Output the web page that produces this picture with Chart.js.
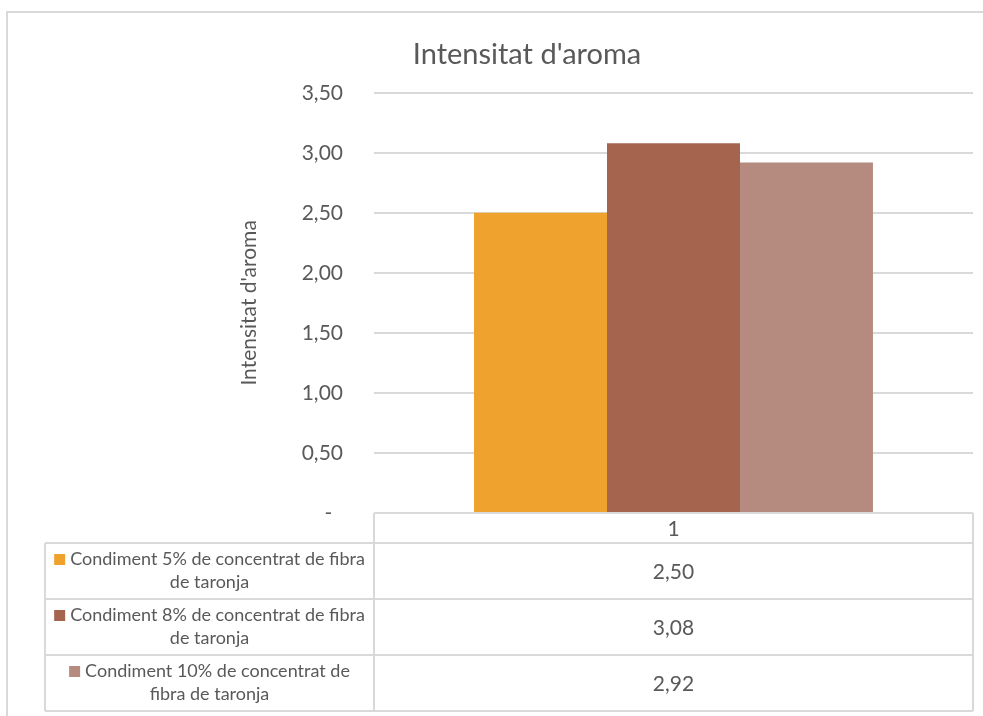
<!DOCTYPE html>
<html>
<head>
<meta charset="utf-8">
<title>Intensitat d'aroma</title>
<script src="https://cdn.jsdelivr.net/npm/chart.js@4/dist/chart.umd.min.js"></script>
<style>
  html, body { margin: 0; padding: 0; background: #ffffff; }
  #wrap { width: 983px; height: 716px; position: relative; }
</style>
</head>
<body>
<div id="wrap"><canvas id="chart" width="983" height="716"></canvas></div>
<script>
// Categories along the x axis (one group)
const categories = ['1'];

// Series names, split into the lines shown in the data table
const seriesNames = [
  ['Condiment 5% de concentrat de fibra', 'de taronja'],
  ['Condiment 8% de concentrat de fibra', 'de taronja'],
  ['Condiment 10% de concentrat de', 'fibra de taronja']
];

// Values per series (one per category)
const seriesValues = [
  [2.50],
  [3.08],
  [2.92]
];

const seriesColors = ['#F0A22E', '#A5644E', '#B58B80'];

// Y axis range and step
const yMin = 0;
const yMax = 3.5;
const yStep = 0.5;

const chartTitle = "Intensitat d'aroma";
const yAxisTitle = "Intensitat d'aroma";

const FONT = 'Lato, "Open Sans", sans-serif';
const TEXT_COLOR = '#595959';
const LINE_COLOR = '#D9D9D9';

function fmt(v) {
  if (Math.abs(v) < 1e-9) return '-  ';
  return v.toFixed(2).replace('.', ',');
}

// Outer frame and white background
const framePlugin = {
  id: 'frame',
  beforeDraw(chart) {
    const ctx = chart.ctx;
    ctx.save();
    ctx.fillStyle = '#ffffff';
    ctx.fillRect(0, 0, chart.width, chart.height);
    ctx.strokeStyle = LINE_COLOR;
    ctx.lineWidth = 2;
    ctx.beginPath();
    ctx.moveTo(7, chart.height + 5);
    ctx.lineTo(7, 12);
    ctx.lineTo(chart.width + 5, 12);
    ctx.stroke();
    ctx.restore();
  }
};

// Data table under the plot: header with categories, one row per series
const dataTablePlugin = {
  id: 'dataTable',
  afterDraw(chart) {
    const ctx = chart.ctx;
    const area = chart.chartArea;
    const xs = chart.scales.x;
    const headerH = 30;
    const rowH = 56;
    const legendLeft = 45;
    const top = area.bottom;
    const nRows = chart.data.datasets.length;
    const bottom = top + headerH + rowH * nRows;
    const colW = (area.right - area.left) / categories.length;

    ctx.save();
    ctx.strokeStyle = LINE_COLOR;
    ctx.lineWidth = 2;

    // horizontal lines
    ctx.beginPath();
    ctx.moveTo(area.left, top);
    ctx.lineTo(area.right, top);
    for (let r = 0; r <= nRows; r++) {
      const y = top + headerH + r * rowH;
      ctx.moveTo(legendLeft, y);
      ctx.lineTo(area.right, y);
    }
    // vertical lines
    ctx.moveTo(legendLeft, top + headerH);
    ctx.lineTo(legendLeft, bottom);
    for (let c = 0; c <= categories.length; c++) {
      const x = area.left + c * colW;
      ctx.moveTo(x, top);
      ctx.lineTo(x, bottom);
    }
    ctx.stroke();

    ctx.fillStyle = TEXT_COLOR;
    ctx.textBaseline = 'middle';
    ctx.textAlign = 'center';
    ctx.font = '21px ' + FONT;

    // header: category labels
    categories.forEach((cat, i) => {
      const cx = xs.getPixelForValue(i);
      ctx.fillText(cat, cx, top + headerH / 2 + 1);
    });

    // rows
    chart.data.datasets.forEach((ds, r) => {
      const rowTop = top + headerH + r * rowH;
      const cy = rowTop + rowH / 2;
      ctx.font = '21px ' + FONT;
      ds.data.forEach((v, i) => {
        const cx = xs.getPixelForValue(i);
        ctx.fillStyle = TEXT_COLOR;
        ctx.textAlign = 'center';
        ctx.fillText(fmt(v), cx, cy + 1);
      });

      // legend cell
      ctx.font = '18px ' + FONT;
      const lines = seriesNames[r];
      const lineH = 23;
      const cellCx = (legendLeft + area.left) / 2;
      const firstY = cy - (lines.length - 1) * lineH / 2;
      const marker = 11;
      const gap = 5;
      lines.forEach((line, k) => {
        const y = firstY + k * lineH;
        const w = ctx.measureText(line).width;
        if (k === 0) {
          const total = marker + gap + w;
          const x0 = cellCx - total / 2;
          ctx.fillStyle = ds.backgroundColor;
          ctx.fillRect(x0, y - marker / 2, marker, marker);
          ctx.fillStyle = TEXT_COLOR;
          ctx.textAlign = 'left';
          ctx.fillText(line, x0 + marker + gap, y);
        } else {
          ctx.fillStyle = TEXT_COLOR;
          ctx.textAlign = 'center';
          ctx.fillText(line, cellCx, y);
        }
      });
    });
    ctx.restore();
  }
};

const datasets = seriesValues.map((vals, i) => ({
  label: seriesNames[i].join(' '),
  data: vals,
  backgroundColor: seriesColors[i],
  borderWidth: 0,
  categoryPercentage: 0.666,
  barPercentage: 1.0
}));

new Chart(document.getElementById('chart'), {
  type: 'bar',
  data: { labels: categories, datasets },
  plugins: [framePlugin, dataTablePlugin],
  options: {
    responsive: false,
    animation: false,
    devicePixelRatio: 1,
    layout: { padding: { left: 81, right: 10, top: 0, bottom: 203 } },
    plugins: {
      legend: { display: false },
      tooltip: { enabled: false },
      title: {
        display: true,
        text: chartTitle,
        color: TEXT_COLOR,
        font: { family: FONT, size: 29, weight: 'normal' },
        padding: { top: 37, bottom: 21 }
      }
    },
    scales: {
      x: {
        display: false
      },
      y: {
        min: yMin,
        max: yMax,
        afterFit(scale) { scale.width = 293; },
        ticks: {
          stepSize: yStep,
          color: TEXT_COLOR,
          padding: 31,
          font: { family: FONT, size: 21 },
          callback: (v) => fmt(v)
        },
        grid: {
          color: (c) => c.tick && c.tick.value === 0 ? 'rgba(0,0,0,0)' : LINE_COLOR,
          lineWidth: 2,
          drawTicks: false
        },
        border: { display: false },
        title: {
          display: true,
          text: yAxisTitle,
          color: TEXT_COLOR,
          font: { family: FONT, size: 21 },
          padding: { top: 156, bottom: 0 }
        }
      }
    }
  }
});
</script>
</body>
</html>
